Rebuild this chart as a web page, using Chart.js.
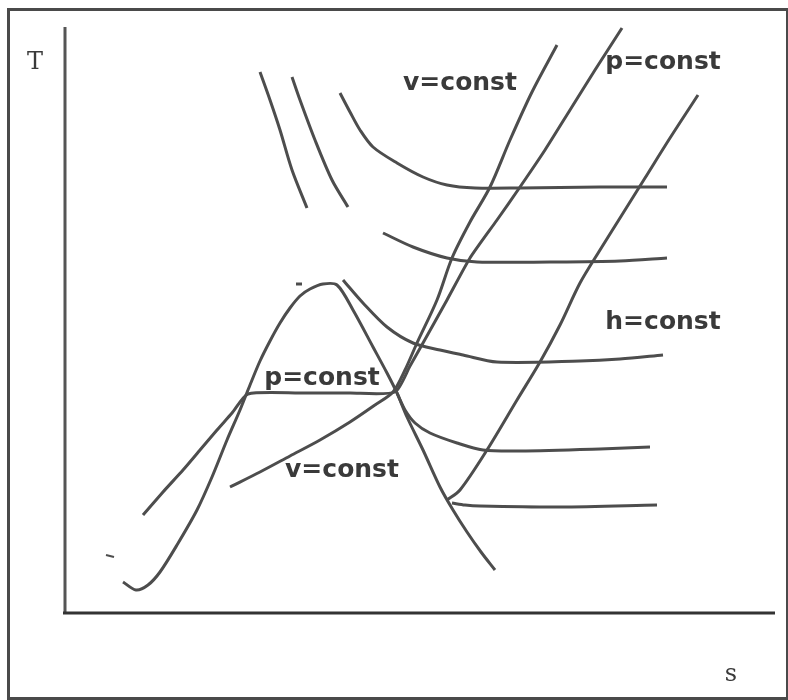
<!DOCTYPE html>
<html>
<head>
<meta charset="utf-8">
<script src="https://cdn.jsdelivr.net/npm/chart.js@4"></script>
<style>
  body { margin: 0; background: #fff; }
  #frame { position: absolute; left: 7px; top: 8px; width: 776px; height: 686px; border: 3px solid #4a4a4a; }
  #ts { position: absolute; left: 0; top: 0; }
</style>
</head>
<body>
<div id="frame"></div>
<canvas id="ts" width="788" height="700"></canvas>
<script>
// T-s sketch, entropy s on x, temperature T on y (arbitrary units)
const domeS = [58, 71, 83, 95, 112, 132, 147, 162, 175, 185, 195, 205, 215, 225, 235, 245, 258, 272, 288, 308, 322, 332, 342, 358, 375, 388, 402, 416, 430];
const domeT = [31, 23, 28, 41, 68, 103, 136, 173, 203, 228, 252, 272, 290, 305, 317, 324, 329, 328, 303, 266, 240, 220, 196, 163, 126, 103, 81, 61, 43];

const isobarS = [78, 98, 118, 135, 152, 167, 183, 235, 285, 330, 345, 358, 382, 405, 432, 455, 480, 505, 530, 557];
const isobarT = [98, 121, 143, 163, 183, 200, 219, 220, 220, 221, 247, 270, 313, 355, 393, 426, 463, 503, 543, 585];

const isochorS = [165, 195, 225, 255, 285, 310, 328, 340, 352, 372, 387, 405, 425, 445, 467, 492];
const isochorT = [126, 141, 157, 173, 191, 208, 221, 243, 270, 313, 355, 391, 426, 473, 521, 568];

const steepS = [382, 395, 422, 452, 475, 495, 515, 535, 555, 580, 605, 633];
const steepT = [113, 123, 163, 213, 251, 288, 330, 363, 395, 435, 475, 518];

const h1S = [275, 285, 295, 308, 332, 358, 382, 410, 455, 535, 602];
const h1T = [520, 501, 483, 466, 450, 436, 428, 425, 425, 426, 426];
const h2S = [318, 348, 382, 412, 485, 555, 602];
const h2T = [380, 366, 355, 351, 351, 352, 355];
const h3S = [278, 298, 322, 348, 375, 398, 432, 515, 555, 598];
const h3T = [333, 310, 286, 270, 263, 258, 251, 252, 254, 258];
const h4S = [332, 340, 350, 365, 392, 418, 455, 535, 585];
const h4T = [220, 203, 190, 180, 170, 163, 162, 164, 166];
const h5S = [387, 400, 415, 495, 592];
const h5T = [110, 108, 107, 106, 108];

const stub1S = [195, 205, 215, 227, 242];
const stub1T = [541, 513, 483, 443, 405];
const stub2S = [227, 235, 250, 267, 283];
const stub2T = [536, 513, 473, 433, 406];

const tick1S = [41, 49];
const tick1T = [58, 56];
const tick2S = [231, 237];
const tick2T = [329, 329];

const axisXS = [-2, 710];
const axisXT = [0, 0];
const axisYS = [0, 0];
const axisYT = [0, 586];

const labelText = ["v=const", "p=const", "h=const", "p=const", "v=const", "T", "s"];
const labelS = [395, 598, 598, 257, 277, -30, 666];
const labelT = [530, 551, 291, 235, 143, 550, -62];

function pts(xs, ys) {
  return xs.map((x, i) => ({ x: x, y: ys[i] }));
}

function curve(xs, ys, width, tension, color) {
  return {
    data: pts(xs, ys),
    borderColor: color || "#4d4d4d",
    borderWidth: width,
    pointRadius: 0,
    tension: tension,
    fill: false,
    clip: false
  };
}

const textPlugin = {
  id: "curveLabels",
  afterDatasetsDraw(chart) {
    const ctx = chart.ctx;
    const xs = chart.scales.x, ys = chart.scales.y;
    ctx.save();
    ctx.fillStyle = "#3a3a3a";
    ctx.textAlign = "center";
    ctx.textBaseline = "middle";
    for (let i = 0; i < labelText.length; i++) {
      const single = labelText[i].length === 1;
      ctx.font = single ? "24px 'DejaVu Serif'" : "bold 25px 'DejaVu Sans'";
      ctx.fillText(labelText[i], xs.getPixelForValue(labelS[i]), ys.getPixelForValue(labelT[i]));
    }
    ctx.restore();
  }
};

new Chart(document.getElementById("ts"), {
  type: "line",
  data: {
    datasets: [
      curve(axisXS, axisXT, 3, 0, "#333"),
      curve(axisYS, axisYT, 3, 0, "#555"),
      curve(domeS, domeT, 3, 0.3),
      curve(isobarS, isobarT, 3, 0.2),
      curve(isochorS, isochorT, 3, 0.3),
      curve(steepS, steepT, 3, 0.3),
      curve(h1S, h1T, 3, 0.3),
      curve(h2S, h2T, 3, 0.3),
      curve(h3S, h3T, 3, 0.3),
      curve(h4S, h4T, 3, 0.3),
      curve(h5S, h5T, 3, 0.3),
      curve(stub1S, stub1T, 3, 0.3),
      curve(stub2S, stub2T, 3, 0.3),
      curve(tick1S, tick1T, 2, 0),
      curve(tick2S, tick2T, 3, 0)
    ]
  },
  options: {
    responsive: false,
    animation: false,
    devicePixelRatio: 1,
    layout: { padding: { left: 65, right: 13, top: 27, bottom: 87 } },
    plugins: { legend: { display: false }, tooltip: { enabled: false } },
    scales: {
      x: { type: "linear", min: 0, max: 710, display: false },
      y: { type: "linear", min: 0, max: 586, display: false }
    }
  },
  plugins: [textPlugin]
});
</script>
</body>
</html>
